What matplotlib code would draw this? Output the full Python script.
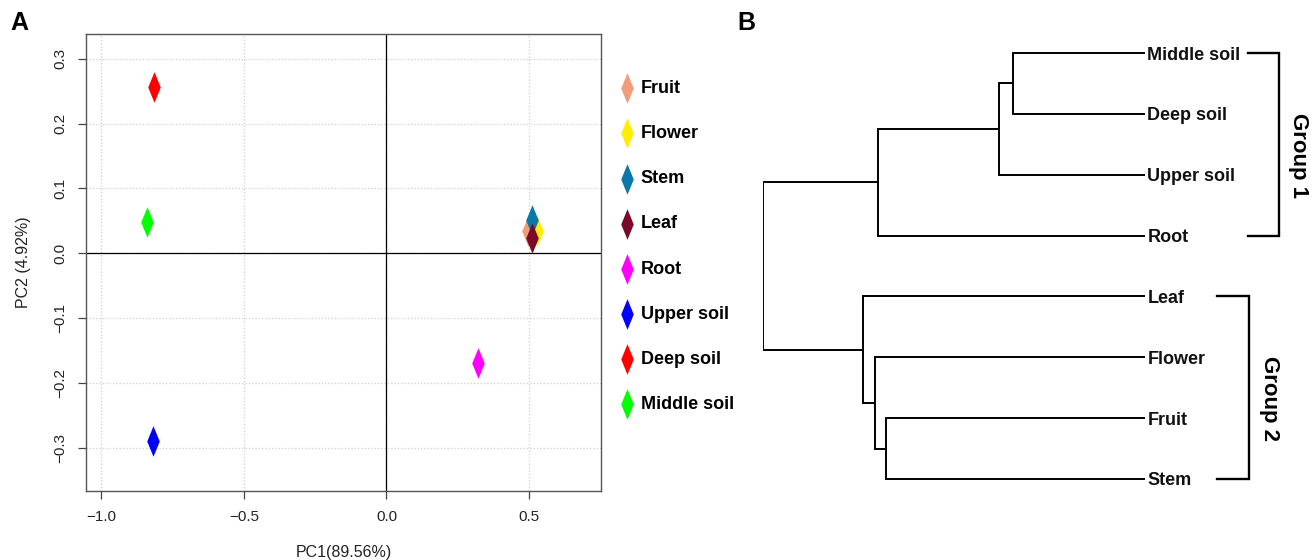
import matplotlib
matplotlib.use("Agg")
import matplotlib.pyplot as plt
import numpy as np

plt.rcParams['font.family'] = ['Liberation Sans', 'DejaVu Sans']

# PCA scores (panel A)
samples = ["Fruit", "Flower", "Stem", "Leaf", "Root", "Upper soil", "Deep soil", "Middle soil"]
pc1 = [0.497, 0.528, 0.510, 0.510, 0.322, -0.818, -0.815, -0.839]
pc2 = [0.035, 0.035, 0.052, 0.024, -0.169, -0.289, 0.256, 0.048]
colors = ["#F39C7C", "#FFEE00", "#0A78A8", "#7A0A2A", "#FF00FF", "#0000FF", "#FF0000", "#00FF00"]
xticks = [-1.0, -0.5, 0.0, 0.5]
yticks = [-0.3, -0.2, -0.1, 0.0, 0.1, 0.2, 0.3]

# dendrogram (panel B): leaves in display order, merges as (child a, child b, height)
leaves = ["Middle soil", "Deep soil", "Upper soil", "Root", "Leaf", "Flower", "Fruit", "Stem"]
merges = [
    (0, 1, 0.346),
    (8, 2, 0.382),
    (9, 3, 0.699),
    (6, 7, 0.678),
    (5, 11, 0.707),
    (4, 12, 0.738),
    (10, 13, 1.000),
]
groups = [("Group 1", 0, 3), ("Group 2", 4, 7)]

W, H = 1316, 560
fig = plt.figure(figsize=(W / 100, H / 100), dpi=100)

# ---------------- panel A ----------------
ax = fig.add_axes([86 / W, 1 - 491 / H, (601 - 86) / W, (491 - 34) / H])
diamond = [(0, 1), (0.41, 0), (0, -1), (-0.41, 0), (0, 1)]

for name, x, y, c in zip(samples, pc1, pc2, colors):
    ax.scatter([x], [y], marker=diamond, s=22 ** 2, c=c, linewidths=0, label=name, zorder=3)

ax.set_xlim(-1.053, 0.752)
ax.set_ylim(-0.366, 0.338)
ax.set_xticks(xticks)
ax.set_yticks(yticks)
ax.grid(True, linestyle=':', color='#cfcfcf', linewidth=0.9)
ax.set_axisbelow(True)
ax.axhline(0, color='black', lw=0.9, zorder=2)
ax.axvline(0, color='black', lw=0.9, zorder=2)
for sp in ax.spines.values():
    sp.set_color('#555555')
    sp.set_linewidth(1.0)
ax.tick_params(direction='out', length=5.5, width=0.9, color='#444444',
               labelsize=11, labelcolor='#222222', pad=8)
plt.setp(ax.get_yticklabels(), rotation=90, va='center')
ax.set_xlabel("PC1(89.56%)", fontsize=11.5, labelpad=15, color='#222222')
ax.set_ylabel("PC2 (4.92%)", fontsize=11.5, labelpad=16, color='#222222')

ax.legend(loc='upper left', bbox_to_anchor=(618 / W, 1 - 80 / H),
          bbox_transform=fig.transFigure, frameon=False,
          prop={'weight': 'bold', 'size': 13}, labelspacing=1.56,
          handlelength=1.0, handletextpad=0.25, borderpad=0, borderaxespad=0,
          scatterpoints=1)

# ---------------- panel B ----------------
px_per_unit = 382.0
bx = fig.add_axes([763 / W, 1 - 509.4 / H, (W - 763) / W, 486.8 / H])
bx.set_xlim(1.0, 1.0 - (W - 763) / px_per_unit)
bx.set_ylim(7.5, -0.5)
bx.axis('off')

pos = {i: (0.0, float(i)) for i in range(len(leaves))}
for k, (a, b, h) in enumerate(merges):
    xa, ya = pos[a]
    xb, yb = pos[b]
    bx.plot([xa, h, h, xb], [ya, ya, yb, yb], color='black', lw=1.4,
            solid_joinstyle='miter', solid_capstyle='butt')
    pos[len(leaves) + k] = (h, (ya + yb) / 2)

for i, name in enumerate(leaves):
    bx.text(-0.006, i, name, ha='left', va='center_baseline', fontsize=13,
            fontweight='bold', color='#111111')

# group brackets (layout positions in the dendrogram distance units)
bracket_x = {"Group 1": (-0.270, -0.351, -0.403), "Group 2": (-0.189, -0.272, -0.325)}
for gname, y0, y1 in groups:
    x_arm, x_vert, x_txt = bracket_x[gname]
    bx.plot([x_arm, x_vert, x_vert, x_arm], [y0, y0, y1, y1], color='black', lw=1.7,
            solid_joinstyle='miter', clip_on=False)
    bx.text(x_txt, (y0 + y1) / 2 + 0.18, gname, rotation=-90, ha='center', va='center',
            fontsize=16, fontweight='bold', clip_on=False)

# panel letters
fig.text(10 / W, 1 - 11 / H, "A", fontsize=18, fontweight='bold', va='top', ha='left')
fig.text(737 / W, 1 - 11 / H, "B", fontsize=18, fontweight='bold', va='top', ha='left')

fig.savefig("out.png", dpi=100)
